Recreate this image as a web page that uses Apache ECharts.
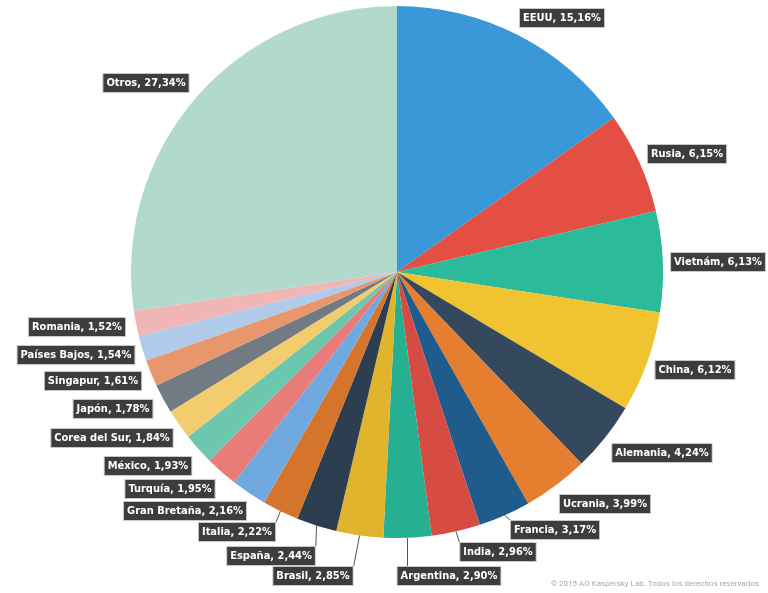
<!DOCTYPE html>
<html>
<head>
<meta charset="utf-8">
<script src="https://cdn.jsdelivr.net/npm/echarts@6/dist/echarts.min.js"></script>
<style>
html,body{margin:0;padding:0;background:#fff;}
#chart{width:768px;height:593px;}
</style>
</head>
<body>
<div id="chart"></div>
<script>
const countries = ['EEUU','Rusia','Vietnám','China','Alemania','Ucrania','Francia','India','Argentina','Brasil','España','Italia','Gran Bretaña','Turquía','México','Corea del Sur','Japón','Singapur','Países Bajos','Romania','Otros'];
const shares = [15.16,6.15,6.13,6.12,4.24,3.99,3.17,2.96,2.90,2.85,2.44,2.22,2.16,1.95,1.93,1.84,1.78,1.61,1.54,1.52,27.34];
const colors = ['#3a98d9','#e44f44','#2bbb9b','#f0c330','#34495e','#e67e30','#1f5c8b','#d64b42','#26af91','#e0b52d','#2c3e50','#d4752b','#6fa9e0','#e87c78','#6cc7ae','#f3cd6d','#727b84','#e8976d','#b0cbe9','#f0b6b6','#b1dacd'];
// label box centres (layout only)
const labelPos = [[562,18],[687,154],[718,262],[695,370],[662,453],[605,504],[555,530],[498,552],[449,576],[313,576],[271,556],[237,532],[185,511],[170,489],[148,466],[112,438],[113,409],[93,381],[76,355],[77,327],[146,83]];
const withLine = ['Francia','India','Argentina','Brasil','España','Italia'];

const chart = echarts.init(document.getElementById('chart'));
chart.setOption({
  animation: false,
  title: {
    text: '© 2015 AO Kaspersky Lab. Todos los derechos reservados.',
    right: 7, bottom: 5, padding: 0,
    textStyle: {fontSize: 8, fontWeight: 'normal', color: '#a8a8a8', fontFamily: 'Roboto, sans-serif'}
  },
  series: [{
    type: 'pie',
    center: [397, 272],
    radius: [0, 266],
    startAngle: 90,
    clockwise: true,
    avoidLabelOverlap: false,
    data: countries.map((c, i) => ({
      name: c, value: shares[i],
      itemStyle: {color: colors[i]},
      labelLine: {show: withLine.indexOf(c) >= 0}
    })),
    label: {
      show: true,
      position: 'outside',
      formatter: p => p.name + ', ' + p.value.toFixed(2).replace('.', ',') + '%',
      color: '#ffffff',
      fontWeight: 'bold',
      fontSize: 11,
      fontFamily: '"DejaVu Sans Condensed", sans-serif',
      backgroundColor: '#3d3d3d',
      borderColor: '#c8c8c8',
      borderWidth: 1,
      padding: [4, 3, 3, 3]
    },
    labelLine: {
      show: false,
      length: 10, length2: 10,
      lineStyle: {color: '#555555', width: 1}
    },
    labelLayout: p => {
      const cx = labelPos[p.dataIndex][0], cy = labelPos[p.dataIndex][1];
      const w = p.labelRect.width, h = p.labelRect.height;
      const out = {x: cx, y: cy, align: 'center', verticalAlign: 'middle'};
      if (p.labelLinePoints && p.labelLinePoints.length) {
        const a = p.labelLinePoints[0];
        const ex = Math.min(Math.max(a[0], cx - w / 2), cx + w / 2);
        const ey = Math.min(Math.max(a[1], cy - h / 2), cy + h / 2);
        out.labelLinePoints = [[a[0], a[1]], [a[0], a[1]], [ex, ey]];
      }
      return out;
    }
  }]
});
</script>
</body>
</html>
